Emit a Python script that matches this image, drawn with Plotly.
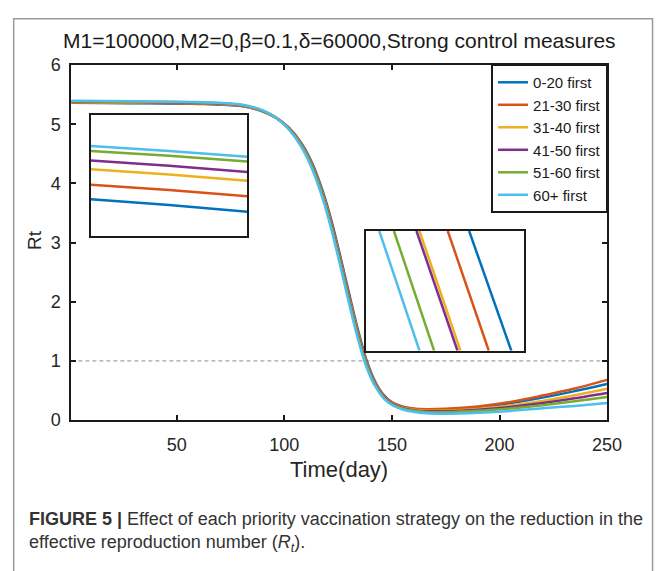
import plotly.graph_objects as go

W, H = 669, 571

# ---------------- data ----------------
days = [1, 30, 60, 80, 90, 96, 102, 108, 113, 118, 122, 126, 130, 134, 138,
        142, 146, 150, 155, 160, 166, 175, 190, 205, 220, 235, 250]

rt_0_20 = [5.362, 5.354, 5.342, 5.305, 5.215, 5.110, 4.945, 4.675, 4.335, 3.850, 3.355,
           2.770, 2.155, 1.555, 1.035, 0.665, 0.430, 0.300, 0.225, 0.190, 0.175, 0.180,
           0.215, 0.285, 0.380, 0.490, 0.610]
rt_21_30 = [5.368, 5.360, 5.348, 5.310, 5.218, 5.112, 4.940, 4.662, 4.312, 3.822, 3.320,
            2.733, 2.115, 1.520, 1.010, 0.645, 0.418, 0.295, 0.225, 0.195, 0.185, 0.192,
            0.232, 0.305, 0.415, 0.535, 0.680]
rt_31_40 = [5.376, 5.368, 5.356, 5.316, 5.221, 5.111, 4.932, 4.646, 4.289, 3.792, 3.284,
            2.695, 2.075, 1.484, 0.981, 0.627, 0.404, 0.280, 0.208, 0.175, 0.158, 0.160,
            0.190, 0.248, 0.325, 0.420, 0.530]
rt_41_50 = [5.382, 5.374, 5.362, 5.321, 5.225, 5.114, 4.928, 4.638, 4.278, 3.778, 3.268,
            2.678, 2.058, 1.468, 0.968, 0.618, 0.396, 0.274, 0.202, 0.168, 0.150, 0.150,
            0.175, 0.222, 0.290, 0.370, 0.460]
rt_51_60 = [5.388, 5.380, 5.368, 5.326, 5.229, 5.114, 4.924, 4.629, 4.264, 3.758, 3.244,
            2.652, 2.031, 1.441, 0.946, 0.604, 0.386, 0.265, 0.193, 0.158, 0.138, 0.136,
            0.158, 0.198, 0.252, 0.318, 0.390]
rt_60p = [5.395, 5.387, 5.375, 5.332, 5.233, 5.113, 4.915, 4.610, 4.235, 3.720, 3.200,
          2.605, 1.983, 1.398, 0.915, 0.585, 0.375, 0.255, 0.180, 0.140, 0.115, 0.108,
          0.125, 0.155, 0.200, 0.240, 0.290]

labels = ["0-20 first", "21-30 first", "31-40 first", "41-50 first", "51-60 first", "60+ first"]
series = [rt_0_20, rt_21_30, rt_31_40, rt_41_50, rt_51_60, rt_60p]
colors = ["#0072BD", "#D95319", "#EDB120", "#7E2F8E", "#77AC30", "#4DBEEE"]

# inset 1: zoom on the early plateau
inset1_days = [20, 40, 60]
inset1_rt = [
    [5.3626, 5.3614, 5.3600],
    [5.3656, 5.3645, 5.3632],
    [5.3688, 5.3677, 5.3664],
    [5.3706, 5.3695, 5.3682],
    [5.3726, 5.3716, 5.3704],
    [5.3736, 5.3726, 5.3714],
]
inset1_xrange = [20, 60]
inset1_yrange = [5.355, 5.380]

# inset 2: zoom on the crossing of Rt = 1
inset2_rt = [1.025, 1.000]
inset2_days = [
    [137.123, 137.336],
    [137.015, 137.222],
    [136.872, 137.079],
    [136.857, 137.064],
    [136.743, 136.946],
    [136.669, 136.872],
]
inset2_xrange = [136.6, 137.4]
inset2_yrange = [1.000, 1.025]

threshold = 1
x_ticks = [50, 100, 150, 200, 250]
y_ticks = [0, 1, 2, 3, 4, 5, 6]

title_text = "M1=100000,M2=0,β=0.1,δ=60000,Strong control measures"
caption1 = "<b>FIGURE 5 |</b> Effect of each priority vaccination strategy on the reduction in the"
caption2 = "effective reproduction number (<i>R</i><sub><i>t</i></sub>)."

# ---------------- figure ----------------
FONT = "Arial, Liberation Sans, sans-serif"
fig = go.Figure()

for lab, ys, c in zip(labels, series, colors):
    fig.add_trace(go.Scatter(x=days, y=ys, name=lab, mode="lines",
                             line=dict(color=c, width=2.5, shape="spline", smoothing=0.8),
                             xaxis="x", yaxis="y"))

for ys, c in zip(inset1_rt, colors):
    fig.add_trace(go.Scatter(x=inset1_days, y=ys, mode="lines", showlegend=False,
                             line=dict(color=c, width=2.5, shape="spline"),
                             xaxis="x2", yaxis="y2"))

for xs, c in zip(inset2_days, colors):
    fig.add_trace(go.Scatter(x=xs, y=inset2_rt, mode="lines", showlegend=False,
                             line=dict(color=c, width=2.5),
                             xaxis="x3", yaxis="y3"))

def px_x(p):
    return p / W

def px_y(p):
    return 1 - p / H

axis_common = dict(showline=True, linecolor="#1a1a1a", linewidth=2, mirror="ticks",
                   ticks="inside", ticklen=5, tickwidth=1.5, tickcolor="#1a1a1a",
                   showgrid=False, zeroline=False,
                   tickfont=dict(family=FONT, size=18, color="#262626"))

inset_axis = dict(showline=True, linecolor="#1a1a1a", linewidth=2, mirror=True,
                  ticks="", showticklabels=False, showgrid=False, zeroline=False)

fig.update_layout(
    width=W, height=H,
    margin=dict(l=0, r=0, t=0, b=0),
    paper_bgcolor="white", plot_bgcolor="white",
    xaxis=dict(domain=[px_x(73), px_x(621)], range=[1, 250], tickvals=x_ticks,
               anchor="y", ticklabelstandoff=7, **axis_common),
    yaxis=dict(domain=[px_y(425), px_y(57)], range=[0, 6], tickvals=y_ticks,
               anchor="x", ticklabelstandoff=5, **axis_common),
    xaxis2=dict(domain=[px_x(93), px_x(253)], range=inset1_xrange, anchor="y2", **inset_axis),
    yaxis2=dict(domain=[px_y(234), px_y(109)], range=inset1_yrange, anchor="x2", **inset_axis),
    xaxis3=dict(domain=[px_x(374), px_x(536)], range=inset2_xrange, anchor="y3", **inset_axis),
    yaxis3=dict(domain=[px_y(353), px_y(229)], range=inset2_yrange, anchor="x3", **inset_axis),
    legend=dict(x=px_x(622), y=px_y(56), xanchor="right", yanchor="top",
                bordercolor="#1a1a1a", borderwidth=2, bgcolor="white",
                font=dict(family=FONT, size=15, color="#1a1a1a"),
                itemwidth=30, tracegroupgap=0),
    showlegend=True,
)

# reference line Rt = 1
fig.add_shape(type="line", xref="x domain", yref="y", x0=0, x1=1, y0=threshold, y1=threshold,
              line=dict(color="#8c8c8c", width=1, dash="4px,3px"), layer="below")

# outer frame
fig.add_shape(type="rect", xref="paper", yref="paper", x0=px_x(14), x1=px_x(667.5),
              y0=-0.05, y1=px_y(9), line=dict(color="#9a9a9a", width=1.5))

annots = [
    dict(text=title_text, x=px_x(347), y=px_y(32), font=dict(size=21, color="#1a1a1a")),
    dict(text="Rt", x=px_x(35), y=px_y(238), textangle=-90, font=dict(size=19, color="#262626")),
    dict(text="Time(day)", x=px_x(347), y=px_y(476), font=dict(size=22, color="#262626")),
]
for a in annots:
    fig.add_annotation(xref="paper", yref="paper", showarrow=False, xanchor="center",
                       yanchor="middle", font_family=FONT, **{k: v for k, v in a.items()})

fig.add_annotation(text=caption1, xref="paper", yref="paper", x=px_x(28), y=px_y(527),
                   xanchor="left", yanchor="middle", showarrow=False,
                   font=dict(family=FONT, size=18, color="#333333"))
fig.add_annotation(text=caption2, xref="paper", yref="paper", x=px_x(28), y=px_y(553),
                   xanchor="left", yanchor="middle", showarrow=False,
                   font=dict(family=FONT, size=18, color="#333333"))

fig.write_html("out.html")
